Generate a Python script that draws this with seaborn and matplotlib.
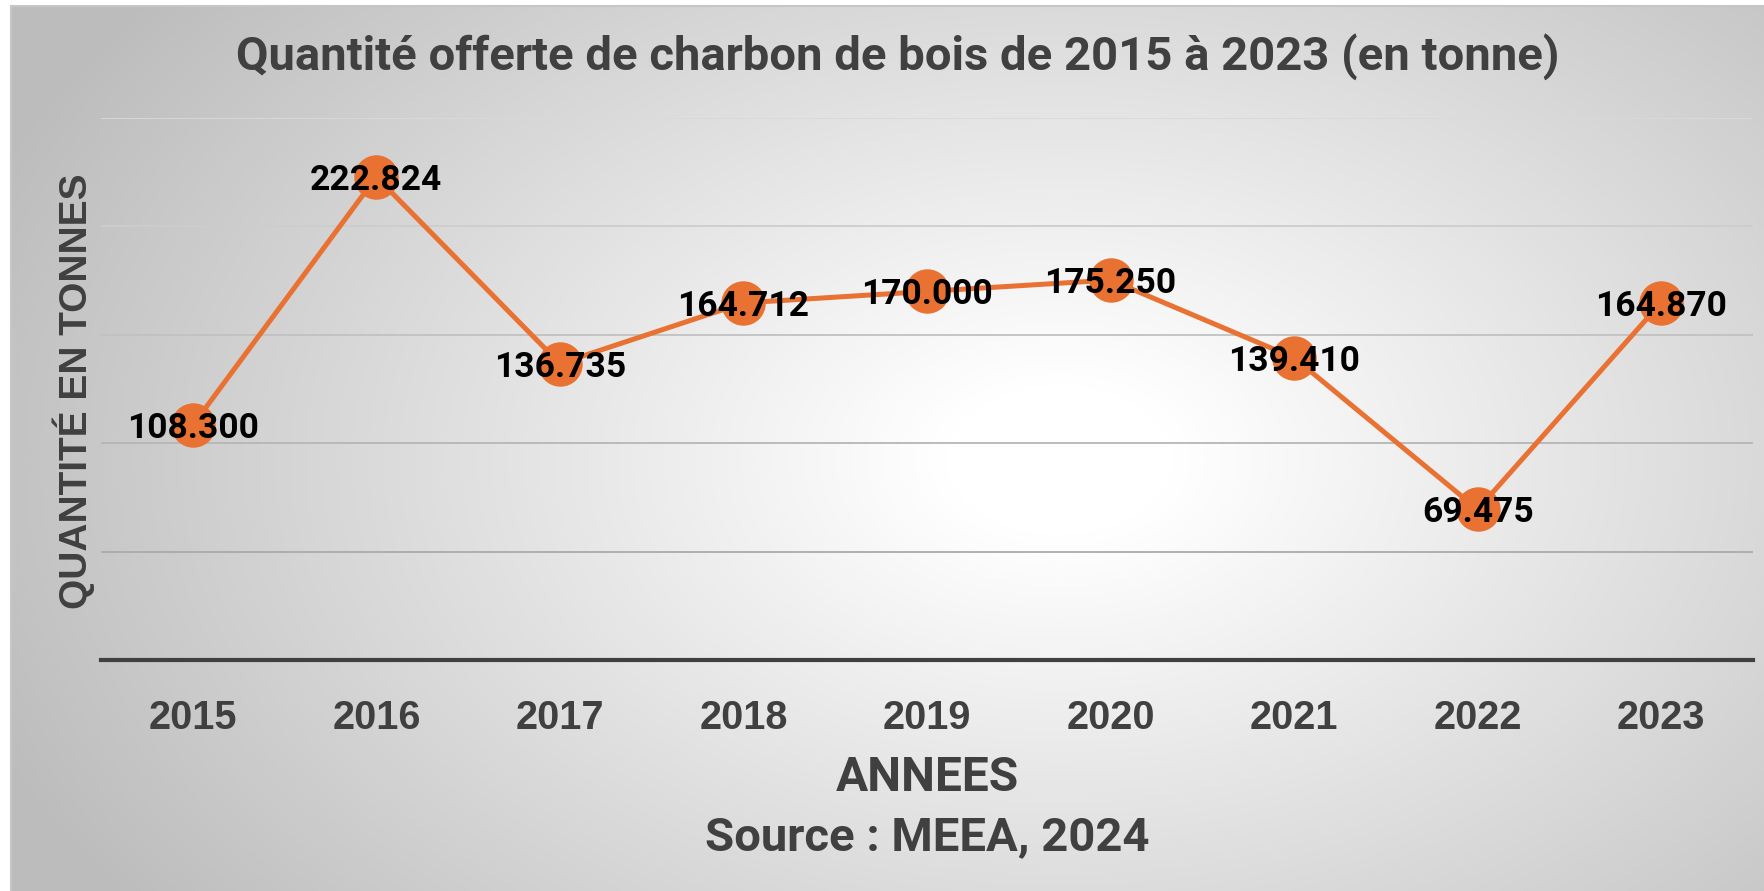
import numpy as np
import pandas as pd
import seaborn as sns
import matplotlib.pyplot as plt

# data
years = [2015, 2016, 2017, 2018, 2019, 2020, 2021, 2022, 2023]
quantites = [108300, 222824, 136735, 164712, 170000, 175250, 139410, 69475, 164870]
grid_values = [0, 50000, 100000, 150000, 200000, 250000]

title = "Quantité offerte de charbon de bois de 2015 à 2023 (en tonne)"
ylabel = "QUANTITÉ EN TONNES"
xlabel = "ANNEES"
source = "Source : MEEA, 2024"

df = pd.DataFrame({"annee": years, "quantite": quantites})

W, H = 1765, 891
orange = "#E97132"
dark = "#404040"

sns.set_theme(style="white")
plt.rcParams["font.family"] = ["Roboto", "DejaVu Sans"]

fig = plt.figure(figsize=(W / 100, H / 100), dpi=100)
fig.patch.set_facecolor("white")

# radial gradient background of the chart area
bg = fig.add_axes([11 / W, 0, 1 - 11 / W, 1 - 6 / H], zorder=-5)
xs = np.linspace(11, W, 600)
ys = np.linspace(6, H, 300)
X, Y = np.meshgrid(xs, ys)
d = np.sqrt(((X - 1060) / 1150) ** 2 + ((Y - 460) / 760) ** 2)
v = 1 - 0.26 * np.clip((d - 0.1) / 0.9, 0, 1)
img = np.dstack([v, v, v])
bg.imshow(img, aspect="auto", extent=[0, 1, 0, 1], origin="upper")
bg.set_axis_off()
# thin frame line on top / left
fig.add_artist(plt.Line2D([11 / W, 1], [1 - 6 / H, 1 - 6 / H], color="#C6C6C6", lw=1.5))
fig.add_artist(plt.Line2D([11 / W, 11 / W], [0, 1 - 6 / H], color="#C6C6C6", lw=1.5))

left, right, top, bottom = 101, 1753, 118, 660
ax = fig.add_axes([left / W, 1 - bottom / H, (right - left) / W, (bottom - top) / H])
ax.patch.set_alpha(0)

# gridlines (fade from light at top to darker at bottom)
greys = np.linspace(0.62, 0.85, len(grid_values))
for gv, g in zip(grid_values[1:], greys[1:]):
    ax.axhline(gv, color=(g, g, g), lw=1.3, zorder=0)

sns.lineplot(data=df, x="annee", y="quantite", ax=ax, color=orange, lw=3.6,
             marker="o", markersize=32, markeredgewidth=0, markeredgecolor=orange,
             zorder=3)

for x, y in zip(df["annee"], df["quantite"]):
    lab = f"{y:,}".replace(",", ".")
    ax.text(x, y, lab, ha="center", va="center_baseline", fontsize=25.5,
            fontweight="bold", color="black", zorder=4)

ax.set_xlim(years[0] - 0.5, years[-1] + 0.5)
ax.set_ylim(0, 250000)
ax.set_yticks(grid_values)
ax.set_yticklabels([])
ax.set_xticks(years)
ax.set_xticklabels([str(y) for y in years], fontsize=28.5, fontweight="bold",
                   color=dark, family=["Liberation Sans", "DejaVu Sans"])
ax.tick_params(axis="both", length=0)
ax.tick_params(axis="x", pad=28)
ax.set_xlabel("")
ax.set_ylabel("")
for s in ["top", "right", "left"]:
    ax.spines[s].set_visible(False)
ax.spines["bottom"].set_color(dark)
ax.spines["bottom"].set_linewidth(3)

fig.text(898 / W, 1 - 57 / H, title, ha="center", va="center", fontsize=34,
         fontweight="bold", color=dark)
fig.text(74 / W, 1 - 391 / H, ylabel, ha="center", va="center", rotation=90,
         fontsize=28, fontweight="bold", color=dark,
         family=["Liberation Sans", "DejaVu Sans"])
fig.text(927 / W, 1 - 778 / H, xlabel, ha="center", va="center", fontsize=34.5,
         fontweight="bold", color=dark)
fig.text(927 / W, 1 - 837 / H, source, ha="center", va="center", fontsize=34,
         fontweight="bold", color=dark)

fig.savefig("out.png", dpi=100)
